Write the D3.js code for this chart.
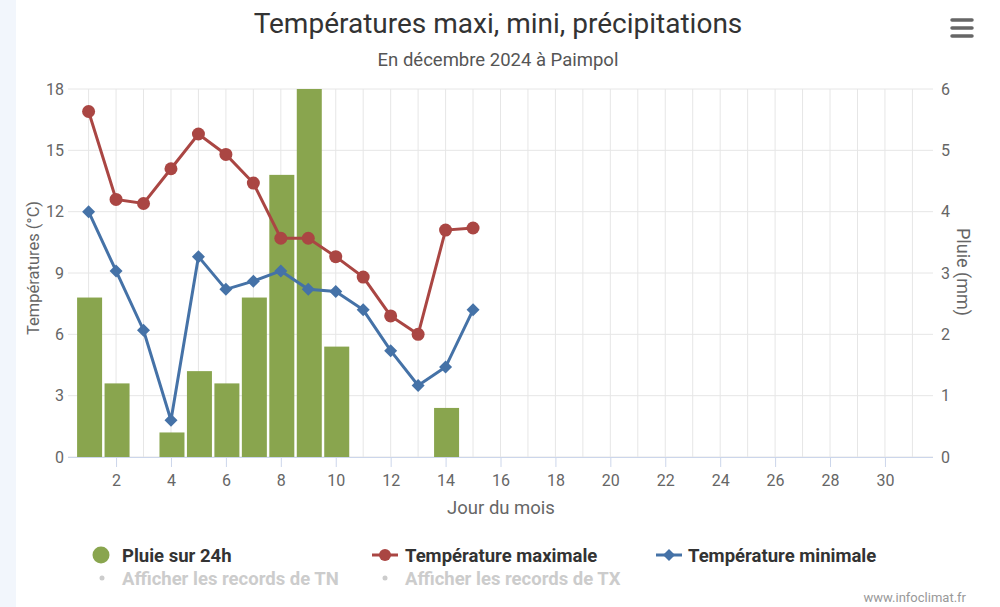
<!DOCTYPE html>
<html><head><meta charset="utf-8">
<script src="https://cdn.jsdelivr.net/npm/d3@7"></script>
<style>
html,body{margin:0;padding:0;background:#fff;}
svg{display:block;font-family:Roboto,"Noto Sans",sans-serif;}
</style></head>
<body>
<svg id="c" width="1000" height="607"></svg>
<script>
const days = d3.range(1, 16);
const rain = [2.6, 1.2, 0, 0.4, 1.4, 1.2, 2.6, 4.6, 6.0, 1.8, 0, 0, 0, 0.8, 0];
const tmax = [16.9, 12.6, 12.4, 14.1, 15.8, 14.8, 13.4, 10.7, 10.7, 9.8, 8.8, 6.9, 6.0, 11.1, 11.2];
const tmin = [12.0, 9.1, 6.2, 1.8, 9.8, 8.2, 8.6, 9.1, 8.2, 8.1, 7.2, 5.2, 3.5, 4.4, 7.2];
const tempTicks = [0, 3, 6, 9, 12, 15, 18];
const rainTicks = [0, 1, 2, 3, 4, 5, 6];
const dayTicks = d3.range(2, 31, 2);
const allDays = d3.range(1, 32);

const svg = d3.select("#c");
const L = 68, R = 933, T = 89, B = 457;
const x = d3.scaleLinear().domain([0.25, 31.75]).range([L, R]);
const yT = d3.scaleLinear().domain([0, 18]).range([B, T]);
const yR = d3.scaleLinear().domain([0, 6]).range([B, T]);

// left strip
svg.append("rect").attr("x", 0).attr("y", 0).attr("width", 16).attr("height", 607).attr("fill", "#f2f6fc");

// title
svg.append("text").attr("x", 498).attr("y", 33).attr("text-anchor", "middle")
  .attr("font-size", 28).attr("fill", "#333").text("Températures maxi, mini, précipitations");
svg.append("text").attr("x", 498).attr("y", 66).attr("text-anchor", "middle")
  .attr("font-size", 18.5).attr("fill", "#555").text("En décembre 2024 à Paimpol");

// hamburger
[20, 28, 36].forEach(yy => svg.append("line").attr("x1", 952).attr("x2", 972).attr("y1", yy).attr("y2", yy)
  .attr("stroke", "#666").attr("stroke-width", 3.5).attr("stroke-linecap", "round"));

// grid
const g = svg.append("g");
g.selectAll(".vg").data(allDays).join("line")
  .attr("x1", d => x(d)).attr("x2", d => x(d)).attr("y1", T).attr("y2", B)
  .attr("stroke", "#e6e6e6").attr("stroke-width", 1);
g.selectAll(".hg").data(tempTicks).join("line")
  .attr("x1", L).attr("x2", R).attr("y1", d => yT(d)).attr("y2", d => yT(d))
  .attr("stroke", "#e6e6e6").attr("stroke-width", 1);

// x axis
const xa = svg.append("g").attr("transform", `translate(0,${B})`)
  .call(d3.axisBottom(x).tickValues(dayTicks).tickSize(10).tickPadding(8));
xa.select(".domain").attr("stroke", "#ccd6eb").attr("d", `M${L},0.5H${R}`);
xa.selectAll(".tick line").attr("stroke", "#ccd6eb");
xa.selectAll("text").attr("font-size", 16).attr("fill", "#666").attr("font-family", "Roboto,sans-serif");

// left axis
const la = svg.append("g").attr("transform", `translate(${L},0)`)
  .call(d3.axisLeft(yT).tickValues(tempTicks).tickSize(0).tickPadding(4));
la.select(".domain").remove();
la.selectAll("text").attr("font-size", 16).attr("fill", "#666").attr("font-family", "Roboto,sans-serif");

// right axis
const ra = svg.append("g").attr("transform", `translate(${R},0)`)
  .call(d3.axisRight(yR).tickValues(rainTicks).tickFormat(d3.format("d")).tickSize(0).tickPadding(8));
ra.select(".domain").remove();
ra.selectAll("text").attr("font-size", 16).attr("fill", "#666").attr("font-family", "Roboto,sans-serif");

// axis titles
svg.append("text").attr("transform", `translate(39,268) rotate(-90)`).attr("text-anchor", "middle")
  .attr("font-size", 16.5).attr("fill", "#666").text("Températures (°C)");
svg.append("text").attr("transform", `translate(957,272) rotate(90)`).attr("text-anchor", "middle")
  .attr("font-size", 18).attr("fill", "#666").text("Pluie (mm)");
svg.append("text").attr("x", 501).attr("y", 514).attr("text-anchor", "middle")
  .attr("font-size", 18.5).attr("fill", "#666").text("Jour du mois");

// bars
const bw = 25;
svg.append("g").selectAll("rect").data(days.filter((d, i) => rain[i] > 0)).join("rect")
  .attr("x", d => x(d) - bw / 2 + 1).attr("width", bw)
  .attr("y", d => yR(rain[d - 1])).attr("height", d => B - yR(rain[d - 1]))
  .attr("fill", "#89a54e");

// lines
const line = arr => d3.line().x((d, i) => x(days[i])).y(d => yT(d))(arr);
svg.append("path").attr("d", line(tmax)).attr("fill", "none").attr("stroke", "#aa4643").attr("stroke-width", 3);
svg.append("g").selectAll("circle").data(tmax).join("circle")
  .attr("cx", (d, i) => x(days[i])).attr("cy", d => yT(d)).attr("r", 6.5).attr("fill", "#aa4643");
svg.append("path").attr("d", line(tmin)).attr("fill", "none").attr("stroke", "#4572a7").attr("stroke-width", 3);
const dia = s => `M0,${-s}L${s},0L0,${s}L${-s},0Z`;
svg.append("g").selectAll("path").data(tmin).join("path")
  .attr("transform", (d, i) => `translate(${x(days[i])},${yT(d)})`).attr("d", dia(6.5)).attr("fill", "#4572a7");

// legend
const lg = svg.append("g").attr("font-size", 18.5).attr("font-weight", "bold");
lg.append("circle").attr("cx", 101).attr("cy", 555).attr("r", 8.5).attr("fill", "#89a54e");
lg.append("text").attr("x", 122).attr("y", 562).attr("fill", "#333").text("Pluie sur 24h");
lg.append("line").attr("x1", 372).attr("x2", 398).attr("y1", 555).attr("y2", 555).attr("stroke", "#aa4643").attr("stroke-width", 3);
lg.append("circle").attr("cx", 385).attr("cy", 555).attr("r", 6).attr("fill", "#aa4643");
lg.append("text").attr("x", 405).attr("y", 562).attr("fill", "#333").text("Température maximale");
lg.append("line").attr("x1", 656).attr("x2", 682).attr("y1", 555).attr("y2", 555).attr("stroke", "#4572a7").attr("stroke-width", 3);
lg.append("path").attr("transform", "translate(669,555)").attr("d", dia(6)).attr("fill", "#4572a7");
lg.append("text").attr("x", 688).attr("y", 562).attr("fill", "#333").text("Température minimale");
lg.append("circle").attr("cx", 102).attr("cy", 578).attr("r", 2.5).attr("fill", "#ccc");
lg.append("text").attr("x", 122).attr("y", 585).attr("fill", "#ccc").text("Afficher les records de TN");
lg.append("circle").attr("cx", 385).attr("cy", 578).attr("r", 2.5).attr("fill", "#ccc");
lg.append("text").attr("x", 405).attr("y", 585).attr("fill", "#ccc").text("Afficher les records de TX");

svg.append("text").attr("x", 966).attr("y", 602).attr("text-anchor", "end")
  .attr("font-size", 13).attr("fill", "#999").text("www.infoclimat.fr");
</script>
</body></html>
